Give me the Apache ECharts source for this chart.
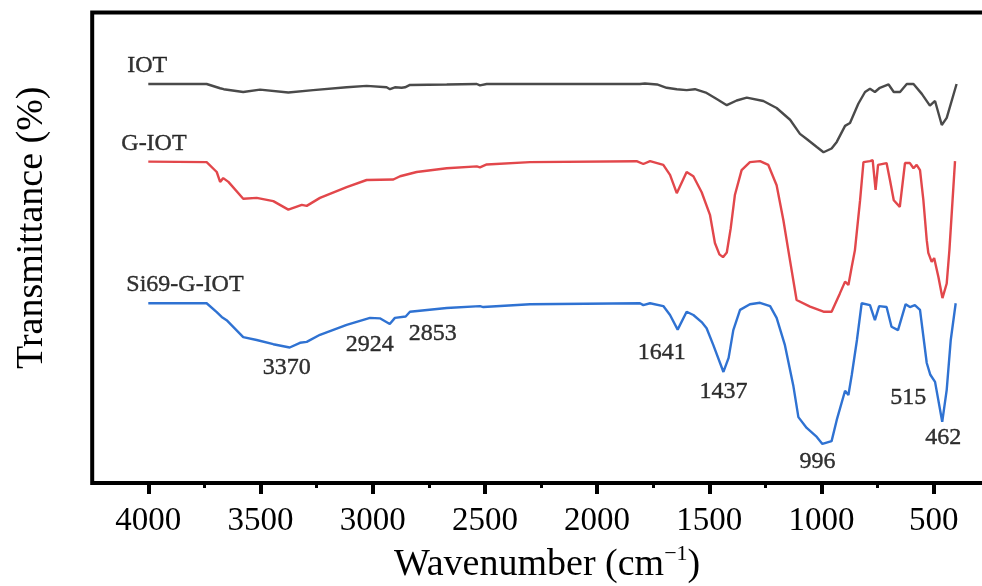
<!DOCTYPE html>
<html>
<head>
<meta charset="utf-8">
<script src="https://cdn.jsdelivr.net/npm/echarts@6/dist/echarts.min.js"></script>
<style>
  html, body { margin: 0; padding: 0; background: #fff; }
  #chart { width: 982px; height: 586px; }
</style>
</head>
<body>
<div id="chart"></div>
<script>
// FTIR spectra, offset vertically: [wavenumber (cm-1), transmittance]
const iot = [
  [4000,84.8],[3740,84.8],[3680,83.9],[3664,83.7],[3577,83.1],[3502,83.6],[3376,83.0],[3265,83.5],
  [3116,84.1],[3027,84.4],[2938,84.1],[2923,83.7],[2901,84.1],[2871,84.0],[2856,84.1],[2834,84.6],
  [2670,84.7],[2536,84.8],[2522,84.5],[2492,84.8],[2299,84.8],[1809,84.8],[1787,84.9],[1733,84.7],
  [1690,84.0],[1645,83.7],[1601,83.5],[1564,83.7],[1512,82.9],[1467,81.6],[1422,80.3],[1378,81.3],
  [1333,81.9],[1259,81.2],[1200,79.7],[1140,77.2],[1096,74.2],[1066,73.1],[1021,71.4],[991,70.3],
  [955,71.1],[932,72.5],[895,75.9],[873,76.5],[836,80.6],[806,83.1],[784,83.8],[762,83.1],
  [740,84.0],[701,84.7],[678,83.1],[650,83.1],[620,84.8],[590,84.8],[553,82.7],[517,80.2],
  [494,81.2],[464,76.1],[442,77.6],[398,84.8]
];

const gIot = [
  [4000,68.3],[3740,68.2],[3695,66.1],[3680,64.0],[3666,64.8],[3643,64.0],[3577,60.4],[3517,60.6],
  [3443,59.9],[3376,58.1],[3316,59.1],[3294,58.9],[3235,60.6],[3116,62.9],[3027,64.4],[2908,64.5],
  [2878,65.2],[2804,66.1],[2670,66.9],[2536,67.3],[2522,67.1],[2492,67.7],[2299,68.2],[1824,68.4],
  [1794,67.8],[1764,68.4],[1705,67.6],[1675,65.5],[1645,61.6],[1601,66.1],[1571,65.2],[1534,61.8],
  [1497,57.0],[1475,51.0],[1455,48.6],[1439,48.0],[1422,49.0],[1405,54.0],[1386,61.2],[1356,66.5],
  [1319,68.2],[1274,68.4],[1237,67.6],[1200,63.3],[1170,55.9],[1148,49.5],[1111,38.9],[1051,37.5],
  [991,36.4],[955,36.4],[918,40.3],[895,42.8],[880,42.1],[865,46.0],[851,49.5],[828,60.1],
  [813,68.2],[784,68.4],[772,68.6],[759,62.3],[748,67.6],[710,68.0],[695,64.4],[678,60.1],
  [651,58.7],[628,68.0],[606,68.0],[590,66.9],[576,67.6],[561,66.5],[546,60.1],[531,51.6],
  [524,48.9],[509,47.0],[498,47.8],[479,43.8],[461,39.3],[442,42.4],[430,49.5],[405,68.4]
];

const si69GIot = [
  [4000,38.2],[3740,38.2],[3695,36.3],[3673,35.3],[3651,34.6],[3577,31.0],[3517,30.4],[3443,29.5],
  [3370,28.8],[3324,29.8],[3294,30.0],[3235,31.5],[3116,33.6],[3012,35.1],[2968,35.0],[2924,33.8],
  [2901,35.1],[2853,35.4],[2834,36.4],[2670,37.2],[2522,37.6],[2507,37.4],[2299,38.0],[1809,38.2],
  [1794,37.8],[1764,38.2],[1705,37.6],[1675,35.7],[1641,32.6],[1601,36.4],[1571,35.7],[1534,34.2],
  [1512,32.9],[1482,29.3],[1437,23.6],[1414,26.6],[1393,32.5],[1363,36.8],[1319,38.0],[1274,38.3],
  [1229,37.6],[1200,35.1],[1163,29.3],[1126,20.8],[1103,14.0],[1066,11.7],[1021,9.8],[996,8.3],
  [955,8.9],[932,13.4],[895,19.6],[880,18.7],[865,23.0],[842,30.4],[821,38.2],[784,37.8],
  [762,34.6],[743,37.6],[710,37.4],[688,33.2],[659,32.5],[625,38.0],[606,37.4],[584,37.8],
  [561,36.8],[531,25.5],[515,23.0],[494,21.5],[462,13.0],[442,19.8],[424,30.4],[402,38.2]
];

const seriesNames = ['IOT', 'G-IOT', 'Si69-G-IOT'];
const seriesColors = ['#4a4a4a', '#e2474b', '#2f72d2'];
const spectra = [iot, gIot, si69GIot];

// Bands marked on the Si69-G-IOT spectrum
const peaks = [3370, 2924, 2853, 1641, 1437, 996, 515, 462];
// Text offsets (px) of each band label from its band minimum
const peakLabelOffsets = [[-3,20],[-20,21],[27,17],[-16,23],[0,20],[-5,18],[-22,23],[1,16]];
const nameLabelOffsets = [[-21,-18],[-27,-18],[-22,-19]];

const majorTicks = [500, 1000, 1500, 2000, 2500, 3000, 3500, 4000];
const minorTicks = [750, 1250, 1750, 2250, 2750, 3250, 3750];

const serif = 'Liberation Serif, Times New Roman, serif';

const chart = echarts.init(document.getElementById('chart'), null, { renderer: 'canvas' });

const lineSeries = spectra.map((d, i) => ({
  name: seriesNames[i],
  type: 'line',
  xAxisIndex: 0,
  data: d,
  showSymbol: false,
  symbol: 'none',
  lineStyle: { color: seriesColors[i], width: 2.4 },
  z: 3
}));

const hiddenDot = { color: 'rgba(0,0,0,0)', borderWidth: 0 };

const textStyle = {
  fontFamily: serif,
  fontSize: 24,
  color: '#000',
  textBorderColor: '#000',
  textBorderWidth: 0.4
};

const nameSeries = {
  type: 'scatter',
  xAxisIndex: 0,
  symbolSize: 1,
  itemStyle: hiddenDot,
  silent: true,
  data: spectra.map((d, i) => ({
    name: seriesNames[i],
    value: d[0],
    label: Object.assign({
      show: true,
      position: 'inside',
      align: 'left',
      verticalAlign: 'middle',
      offset: nameLabelOffsets[i],
      formatter: '{b}'
    }, textStyle)
  })),
  z: 4
};

const peakSeries = {
  type: 'scatter',
  xAxisIndex: 0,
  symbolSize: 1,
  itemStyle: hiddenDot,
  silent: true,
  data: peaks.map((wn, i) => {
    const pt = si69GIot.find(p => p[0] === wn);
    return {
      value: pt,
      label: Object.assign({
        show: true,
        position: 'inside',
        align: 'center',
        verticalAlign: 'middle',
        offset: peakLabelOffsets[i],
        formatter: String(wn)
      }, textStyle)
    };
  }),
  z: 4
};

const option = {
  backgroundColor: '#fff',
  animation: false,
  grid: {
    left: 92.2,
    right: -63.9,
    top: 12.5,
    bottom: 103,
    outerBoundsMode: 'none',
    containLabel: false,
    show: true,
    borderColor: '#000',
    borderWidth: 4,
    backgroundColor: 'transparent'
  },
  xAxis: [
    {
      type: 'value',
      inverse: true,
      min: 0,
      max: 4250,
      interval: 500,
      position: 'bottom',
      axisLine: { show: false },
      splitLine: { show: false },
      axisTick: {
        show: true,
        inside: false,
        length: 11,
        customValues: majorTicks,
        lineStyle: { color: '#000', width: 4 }
      },
      axisLabel: {
        show: true,
        margin: 22,
        customValues: majorTicks,
        formatter: v => (v % 500 === 0 && v > 0 && v <= 4000) ? String(v) : '',
        fontFamily: serif,
        fontSize: 33,
        color: '#000'
      },
      name: 'Wavenumber (cm{sup|−1})',
      nameLocation: 'middle',
      nameGap: 52,
      nameTextStyle: {
        fontFamily: serif,
        fontSize: 38,
        color: '#000',
        padding: [0, 44, 0, 0],
        rich: {
          sup: { fontFamily: serif, fontSize: 22, color: '#000', verticalAlign: 'top', padding: [0, 0, 22, 0] }
        }
      }
    },
    {
      type: 'value',
      inverse: true,
      min: 0,
      max: 4250,
      interval: 250,
      position: 'bottom',
      axisLine: { show: false },
      splitLine: { show: false },
      axisTick: {
        show: true,
        length: 5,
        customValues: minorTicks,
        lineStyle: { color: '#000', width: 3 }
      },
      axisLabel: { show: false }
    }
  ],
  yAxis: {
    type: 'value',
    min: 0,
    max: 100,
    axisLine: { show: false },
    axisTick: { show: false },
    axisLabel: { show: false },
    splitLine: { show: false },
    name: 'Transmittance (%)',
    nameLocation: 'middle',
    nameGap: 41,
    nameTextStyle: {
      fontFamily: serif,
      fontSize: 38,
      color: '#000',
      padding: [0, 0, 0, 40]
    }
  },
  series: [...lineSeries, nameSeries, peakSeries]
};

chart.setOption(option);
</script>
</body>
</html>
